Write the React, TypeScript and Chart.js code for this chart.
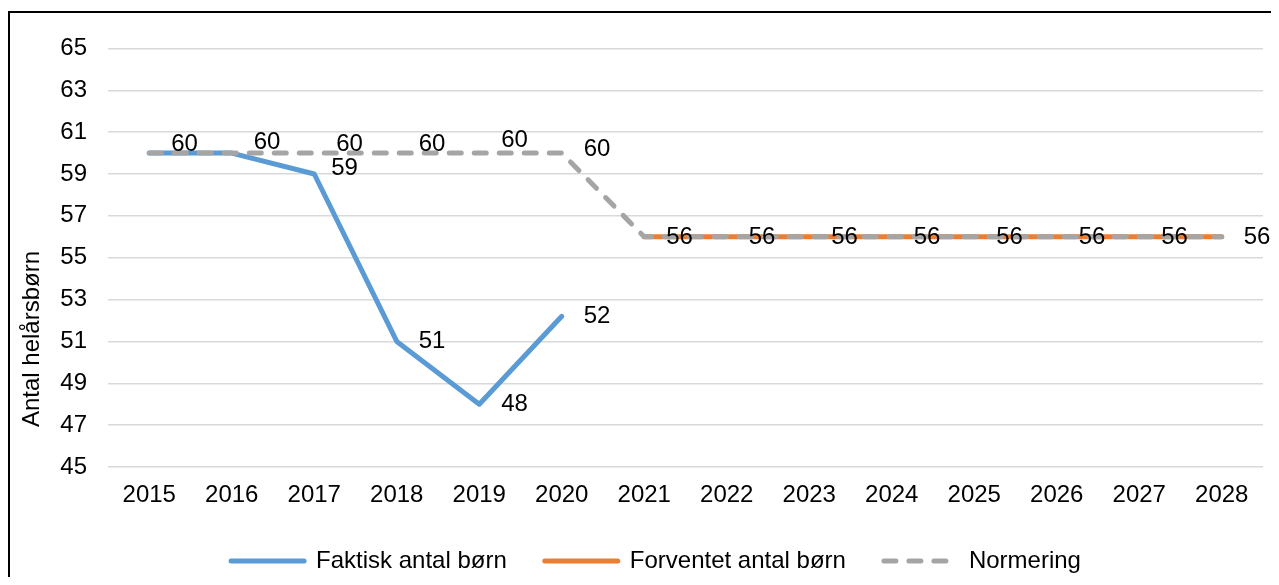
import React, { useEffect, useRef } from "react";
import { Chart, registerables } from "chart.js";

Chart.register(...registerables);

const FONT = '"Liberation Sans", Arial, sans-serif';
const FS = 24;

const years = ["2015", "2016", "2017", "2018", "2019", "2020", "2021", "2022", "2023", "2024", "2025", "2026", "2027", "2028"];
const faktisk: (number | null)[] = [60, 60, 59, 51, 48, 52.2, null, null, null, null, null, null, null, null];
const forventet: (number | null)[] = [null, null, null, null, null, null, 56, 56, 56, 56, 56, 56, 56, 56];
const normering: number[] = [60, 60, 60, 60, 60, 60, 56, 56, 56, 56, 56, 56, 56, 56];

const seriesNames = ["Faktisk antal børn", "Forventet antal børn", "Normering"];
const yTitle = "Antal helårsbørn";
const yMin = 45;
const yMax = 65;
const yStep = 2;

// label styling (vertical nudges, px)
const normeringLabelDy = [-9, -11, -9, -9, -13, -4, 1, 1, 1, 1, 1, 1, 1, 1];
const faktiskLabelDy = [0, 0, -6, 0, 0, 0];

const labelPlugin = {
  id: "pointLabels",
  afterDatasetsDraw(chart: any) {
    const ctx = chart.ctx;
    ctx.save();
    ctx.font = `${FS}px ${FONT}`;
    ctx.fillStyle = "#000";
    ctx.textAlign = "left";
    ctx.textBaseline = "middle";
    const mN = chart.getDatasetMeta(2);
    mN.data.forEach((el: any, i: number) => {
      const v = normering[i];
      if (v == null) return;
      ctx.fillText(String(Math.round(v)), el.x + 22, el.y + (normeringLabelDy[i] || 0));
    });
    const mF = chart.getDatasetMeta(0);
    mF.data.forEach((el: any, i: number) => {
      const v = faktisk[i];
      if (v == null || v === normering[i]) return;
      const dx = i === 2 ? 17 : 22;
      ctx.fillText(String(Math.round(v)), el.x + dx, el.y + (faktiskLabelDy[i] || 0));
    });
    const ca = chart.chartArea;
    ctx.translate(22, ca.bottom - 128);
    ctx.rotate(-Math.PI / 2);
    ctx.textAlign = "center";
    ctx.fillText(yTitle, 0, 0);
    ctx.restore();
  },
};

export default function App() {
  const ref = useRef<HTMLCanvasElement | null>(null);

  useEffect(() => {
    if (!ref.current) return;
    const chart = new Chart(ref.current, {
      type: "line",
      data: {
        labels: years,
        datasets: [
          {
            label: seriesNames[0],
            data: faktisk,
            borderColor: "#5B9BD5",
            backgroundColor: "#5B9BD5",
            borderWidth: 5,
            pointRadius: 0,
            borderCapStyle: "round",
            borderJoinStyle: "round",
            order: 2,
          },
          {
            label: seriesNames[1],
            data: forventet,
            borderColor: "#ED7D31",
            backgroundColor: "#ED7D31",
            borderWidth: 5,
            pointRadius: 0,
            borderCapStyle: "round",
            order: 1,
          },
          {
            label: seriesNames[2],
            data: normering,
            borderColor: "#A5A5A5",
            backgroundColor: "#A5A5A5",
            borderWidth: 5,
            borderDash: [12, 13],
            pointRadius: 0,
            borderCapStyle: "round",
            borderJoinStyle: "round",
            order: 0,
          },
        ],
      },
      options: {
        responsive: false,
        animation: false,
        layout: { padding: { left: 39, right: 16, top: 35, bottom: 71 } },
        plugins: {
          tooltip: { enabled: false },
          legend: {
            position: "bottom",
            labels: {
              usePointStyle: true,
              pointStyle: "line",
              pointStyleWidth: 73,
              boxHeight: FS,
              padding: 38,
              color: "#000",
              font: { family: FONT, size: FS },
              sort: (a: any, b: any) => a.datasetIndex - b.datasetIndex,
              generateLabels: (c: any) => {
                const items = Chart.defaults.plugins.legend.labels.generateLabels(c);
                return items.map((it: any) => {
                  const ds: any = c.data.datasets[it.datasetIndex];
                  return {
                    ...it,
                    lineWidth: 5,
                    strokeStyle: ds.borderColor,
                    lineDash: ds.borderDash || [],
                    lineCap: "round",
                  };
                });
              },
            },
          },
        },
        scales: {
          x: {
            offset: true,
            grid: { display: false, drawTicks: false },
            border: { display: false },
            ticks: { color: "#000", padding: 14, font: { family: FONT, size: FS }, maxRotation: 0 },
            afterFit: (s: any) => {
              s.height = 44;
            },
          },
          y: {
            min: yMin,
            max: yMax,
            grid: { color: "#D9D9D9", lineWidth: 1.5, drawTicks: false },
            border: { display: false },
            ticks: { stepSize: yStep, color: "#000", padding: 21, font: { family: FONT, size: FS } },
            afterFit: (s: any) => {
              s.width = 59;
            },
          },
        },
      },
      plugins: [labelPlugin],
    });
    return () => chart.destroy();
  }, []);

  return (
    <div
      style={{
        marginTop: 3,
        borderTop: "2px solid #000",
        borderLeft: "2px solid #000",
        width: 1269,
        height: 564,
        overflow: "hidden",
      }}
    >
      <canvas ref={ref} width={1269} height={641} style={{ display: "block" }} />
    </div>
  );
}
